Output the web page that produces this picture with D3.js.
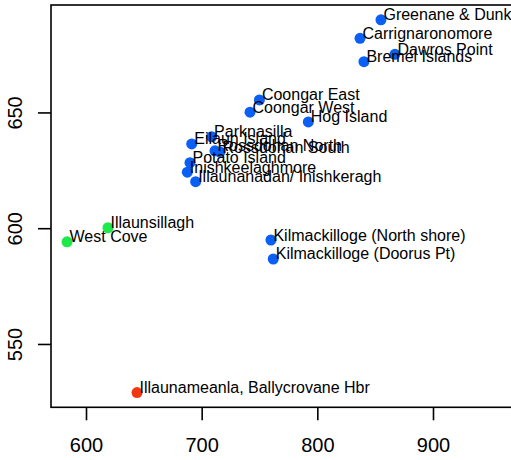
<!DOCTYPE html>
<html><head><meta charset="utf-8">
<script src="https://cdn.jsdelivr.net/npm/d3@7"></script>
<style>body{margin:0;background:#fff;overflow:hidden}svg{display:block}</style>
</head><body>
<script>
const names = ["Greenane & Dunkerron","Carrignaronomore","Dawros Point","Bremel Islands","Coongar East","Coongar West","Hog Island","Parknasilla","Eilaun Island","Rossdohan North","Rossdohan South","Potato Island","Inishkeelaghmore","Illaunanadan/ Inishkeragh","Illaunsillagh","West Cove","Kilmackilloge (North shore)","Kilmackilloge (Doorus Pt)","Illaunameanla, Ballycrovane Hbr"];
const xVals = [855.0,836.9,867.1,840.3,749.9,741.8,792.2,708.6,691.4,711.5,715.8,689.9,687.6,694.8,619.0,583.6,759.9,761.9,644.1];
const yVals = [690.0,682.0,675.1,671.9,655.4,650.1,645.9,639.5,636.4,633.4,632.9,628.3,624.2,620.1,600.2,594.1,594.9,586.7,529.0];
const groups = ["A","A","A","A","A","A","A","A","A","A","A","A","A","A","B","B","A","A","C"];
const xTicks = [600,700,800,900];
const yTicks = [550,600,650];
const groupColors = {A:"#0a5ff5", B:"#1ee84a", C:"#f03712"};

const W=511,H=460;
const mLeft=51, mTop=5, mBottom=407.3, mRight=519.4;
const x = d3.scaleLinear().domain([569.74,974.7]).range([mLeft,mRight]);
const y = d3.scaleLinear().domain([522.65,696.4]).range([mBottom,mTop]);

const svg = d3.select("body").append("svg").attr("width",W).attr("height",H);
const font = "'Liberation Sans', Arial, sans-serif";

svg.append("rect").attr("x",mLeft).attr("y",mTop).attr("width",mRight-mLeft).attr("height",mBottom-mTop)
  .attr("fill","none").attr("stroke","#000").attr("stroke-width",1.6);

const xa = svg.append("g").attr("transform",`translate(0,${mBottom})`)
  .call(d3.axisBottom(x).tickValues(xTicks).tickSize(13).tickPadding(18).tickFormat(d3.format("d")));
xa.select(".domain").remove();
xa.selectAll("line").attr("stroke","#000").attr("stroke-width",1.6);
xa.selectAll("text").attr("font-family",font).attr("font-size",20).attr("fill","#000");

const ya = svg.append("g").attr("transform",`translate(${mLeft},0)`)
  .call(d3.axisLeft(y).tickValues(yTicks).tickSize(13).tickFormat(d3.format("d")));
ya.select(".domain").remove();
ya.selectAll("line").attr("stroke","#000").attr("stroke-width",1.6);
ya.selectAll("text").attr("font-family",font).attr("font-size",20).attr("fill","#000")
  .attr("x",null).attr("dy",null).attr("text-anchor","middle")
  .attr("transform","translate(-29,0) rotate(-90)");

const idx = d3.range(names.length);
svg.append("g").selectAll("circle").data(idx).join("circle")
  .attr("cx",i=>x(xVals[i])).attr("cy",i=>y(yVals[i])).attr("r",5.5)
  .attr("fill",i=>groupColors[groups[i]]);

svg.append("g").selectAll("text").data(idx).join("text")
  .attr("x",i=>x(xVals[i])+2.5).attr("y",i=>y(yVals[i])+0.5)
  .attr("font-family",font).attr("font-size",16).attr("fill","#000")
  .text(i=>names[i]);
</script>
</body></html>
